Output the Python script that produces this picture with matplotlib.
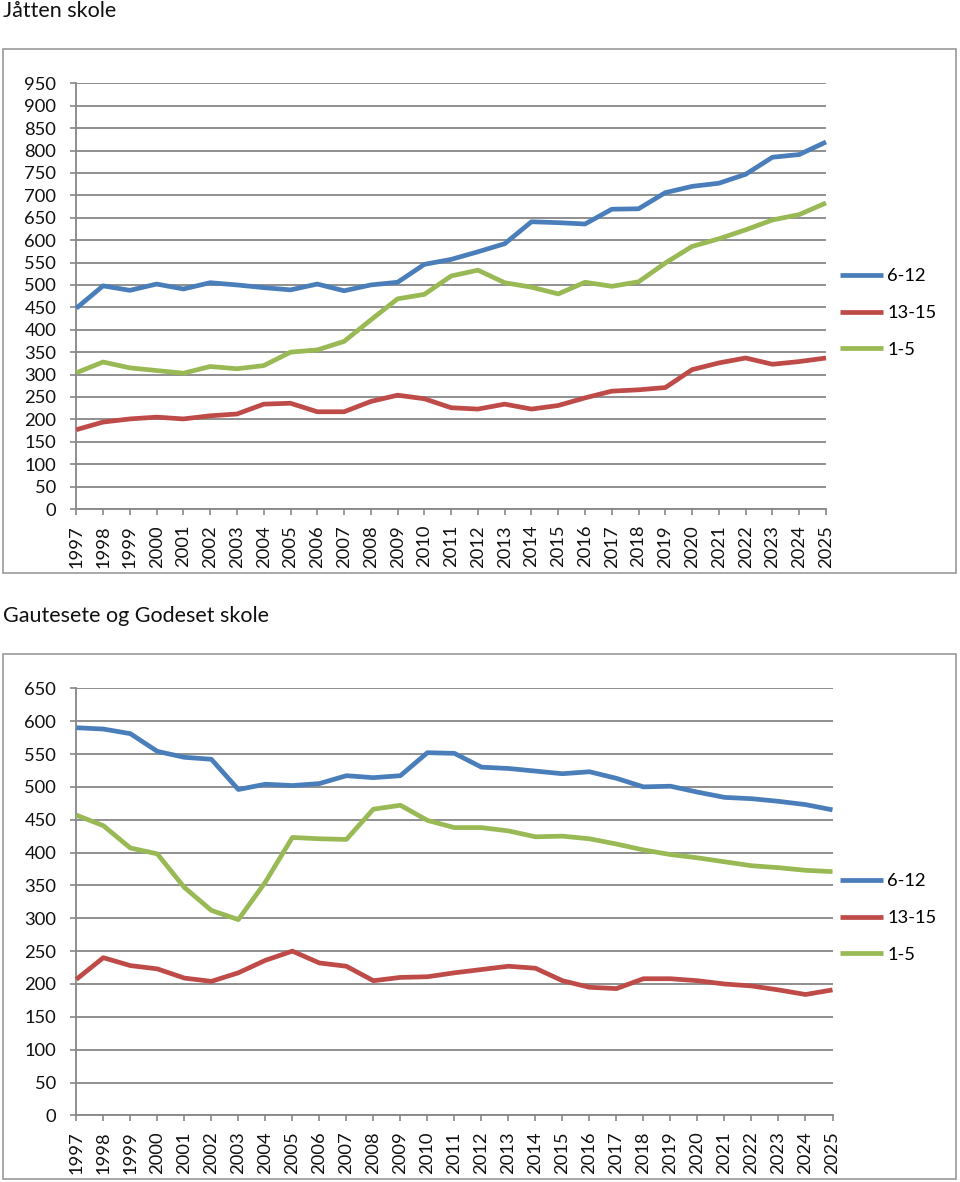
import matplotlib
matplotlib.use("Agg")
import matplotlib.pyplot as plt
from matplotlib.patches import Rectangle

plt.rcParams['font.family'] = ['Lato', 'DejaVu Sans']

years = list(range(1997, 2026))
series_names = ["6-12", "13-15", "1-5"]
colors = ["#4A7EBB", "#BE4B48", "#98B954"]

# Jåtten skole
jatten_6_12 = [448, 498, 488, 502, 491, 505, 500, 494, 489, 502, 487, 500, 506, 546,
               557, 574, 592, 641, 639, 636, 669, 670, 706, 720, 727, 747, 785, 791, 819]
jatten_13_15 = [177, 194, 201, 205, 201, 208, 212, 234, 236, 217, 217, 240, 254, 246,
                226, 223, 234, 223, 231, 248, 263, 266, 271, 311, 326, 337, 323, 329, 337]
jatten_1_5 = [304, 328, 315, 309, 303, 318, 313, 320, 350, 355, 374, 422, 469, 479,
              520, 533, 505, 495, 480, 506, 497, 507, 549, 586, 603, 623, 645, 657, 683]

# Gautesete og Godeset skole
gaut_6_12 = [590, 588, 581, 554, 545, 542, 496, 504, 502, 505, 517, 514, 517, 552,
             551, 530, 528, 524, 520, 523, 513, 500, 501, 492, 484, 482, 478, 473, 465]
gaut_13_15 = [207, 240, 228, 223, 209, 204, 217, 236, 250, 232, 227, 205, 210, 211,
              217, 222, 227, 224, 205, 195, 193, 208, 208, 205, 200, 197, 191, 184, 191]
gaut_1_5 = [457, 441, 407, 398, 347, 312, 298, 355, 423, 421, 420, 466, 472, 449,
            438, 438, 433, 424, 425, 421, 413, 404, 397, 392, 386, 380, 377, 373, 371]

W, H = 960, 1182
fig = plt.figure(figsize=(W / 100, H / 100), dpi=100)


def fbox(x0, y0, x1, y1):
    return [x0 / W, 1 - y1 / H, (x1 - x0) / W, (y1 - y0) / H]


grid_col = "#878787"
txt_col = "#111111"


def make_chart(title, title_y, box, plot, ymax, data, legend_y):
    fig.text(3 / W, 1 - title_y / H, title, fontsize=15.5, va='center', ha='left', color=txt_col)
    bx0, by0, bx1, by1 = box
    fig.patches.append(Rectangle((bx0 / W, 1 - by1 / H), (bx1 - bx0) / W, (by1 - by0) / H,
                                 transform=fig.transFigure, fill=False,
                                 edgecolor='#9a9a9a', linewidth=1.2))
    ax = fig.add_axes(fbox(*plot))
    for vals, name, c in zip(data, series_names, colors):
        ax.plot(years, vals, color=c, linewidth=3.4, label=name, clip_on=False,
                solid_joinstyle='round', solid_capstyle='butt', zorder=3)
    ax.set_xlim(1997, 2025)
    ax.set_ylim(0, ymax)
    ax.set_yticks(range(0, ymax + 1, 50))
    ax.set_xticks(years)
    ax.set_xticklabels([str(y) for y in years], rotation=90)
    ax.grid(axis='y', color=grid_col, linewidth=1.3)
    ax.set_axisbelow(True)
    for s in ['top', 'right']:
        ax.spines[s].set_visible(False)
    for s in ['left', 'bottom']:
        ax.spines[s].set_color(grid_col)
        ax.spines[s].set_linewidth(1.3)
    ax.tick_params(axis='y', direction='out', length=4.5, width=1.2, color=grid_col,
                   labelsize=13.2, pad=10, labelcolor=txt_col)
    ax.tick_params(axis='x', direction='out', length=4.5, width=1.2, color=grid_col,
                   labelsize=13.2, pad=7, labelcolor=txt_col)
    ax.legend(loc='center left', bbox_to_anchor=(840 / W, 1 - legend_y / H),
              bbox_transform=fig.transFigure, frameon=False, fontsize=13.2,
              handlelength=2.35, handletextpad=0.22, labelspacing=1.14,
              borderpad=0, borderaxespad=0)
    return ax


make_chart("Jåtten skole", 11, (3, 49, 956, 573), (76.3, 83.3, 826, 509), 950,
           [jatten_6_12, jatten_13_15, jatten_1_5], 313)
make_chart("Gautesete og Godeset skole", 616, (3, 654, 956, 1179), (76.3, 688.3, 832.5, 1115.4), 650,
           [gaut_6_12, gaut_13_15, gaut_1_5], 918)

fig.savefig("out.png", dpi=100, facecolor='white')
